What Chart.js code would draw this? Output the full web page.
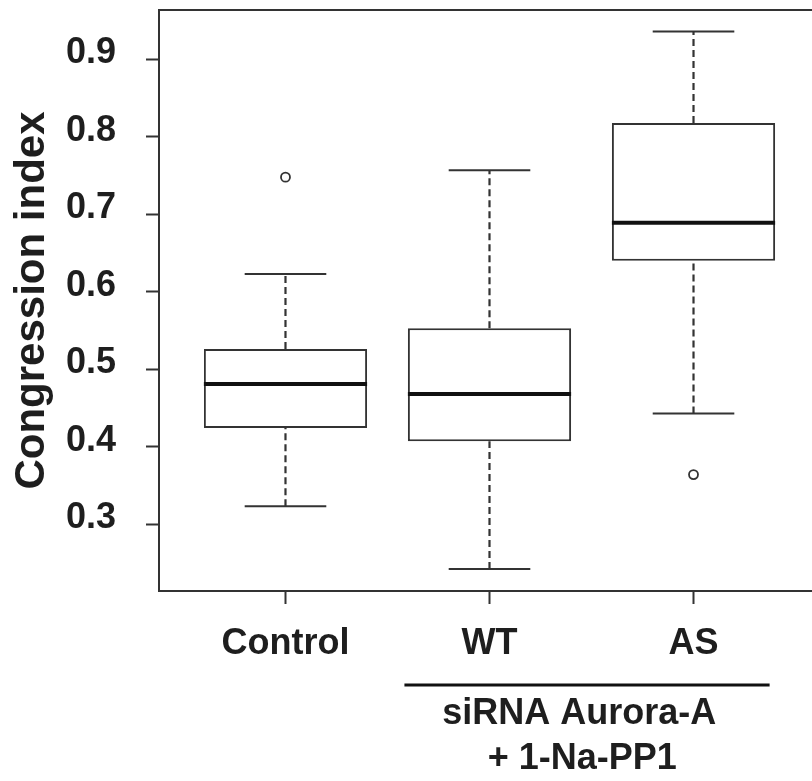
<!DOCTYPE html>
<html><head><meta charset="utf-8">
<script src="https://cdn.jsdelivr.net/npm/chart.js@4.4.1/dist/chart.umd.min.js"></script>
<style>html,body{margin:0;padding:0;background:#fff;overflow:hidden}
#wrap{position:relative;width:830px;height:781px}</style></head>
<body><div id="wrap"><canvas id="c"></canvas></div>
<script>
// ---- data ----
const categories  = ['Control', 'WT', 'AS'];
const whiskerLow  = [0.323, 0.242, 0.443];
const q1          = [0.424, 0.407, 0.640];
const median      = [0.481, 0.468, 0.689];
const q3          = [0.526, 0.553, 0.818];
const whiskerHigh = [0.623, 0.757, 0.936];
const outliers    = [[0.748], [], [0.364]];
const yTicks      = [0.3, 0.4, 0.5, 0.6, 0.7, 0.8, 0.9];
const yTitle      = 'Congression index';
const groupLabel  = ['siRNA Aurora-A', '+ 1-Na-PP1'];

// ---- layout / style constants ----
const FONT = "'Liberation Sans', Arial, Helvetica, sans-serif";
const LINE = '#333333';
const TEXT = '#1e1e1e';
const Y_MIN = 0.2137, Y_MAX = 0.9638;
const X_MIN = 0.38, X_MAX = 3.62;
const BOX_W = 0.8, CAP_W = 0.4;
const GROUP_FROM = 1.583, GROUP_TO = 3.373, GROUP_TEXT_X = 2.44;

const seg = (pts, extra) => Object.assign({
  type: 'line', data: pts, pointRadius: 0, borderColor: LINE, borderWidth: 2,
  fill: false, tension: 0, borderCapStyle: 'butt'
}, extra);

const datasets = [];
datasets.push({
  type: 'bar',
  data: categories.map((c, i) => ({x: i + 1, y: [q1[i], q3[i]]})),
  backgroundColor: '#ffffff', borderColor: LINE, borderWidth: 2,
  borderSkipped: false, barPercentage: BOX_W, categoryPercentage: 1, grouped: false, order: 3
});
categories.forEach((c, i) => {
  const x = i + 1;
  datasets.push(seg([{x, y: q3[i]}, {x, y: whiskerHigh[i]}], {borderDash: [7, 4], borderWidth: 2.2, order: 4}));
  datasets.push(seg([{x, y: whiskerLow[i]}, {x, y: q1[i]}], {borderDash: [7, 4], borderWidth: 2.2, order: 4}));
  datasets.push(seg([{x: x - CAP_W / 2, y: whiskerHigh[i]}, {x: x + CAP_W / 2, y: whiskerHigh[i]}], {order: 4}));
  datasets.push(seg([{x: x - CAP_W / 2, y: whiskerLow[i]}, {x: x + CAP_W / 2, y: whiskerLow[i]}], {order: 4}));
  datasets.push(seg([{x: x - BOX_W / 2, y: median[i]}, {x: x + BOX_W / 2, y: median[i]}], {borderWidth: 4, borderColor: '#111', order: 1}));
});
datasets.push({
  type: 'line', showLine: false,
  data: outliers.flatMap((arr, i) => arr.map(v => ({x: i + 1, y: v}))),
  pointRadius: 4.5, pointBorderWidth: 1.8, pointBackgroundColor: '#fff', pointBorderColor: LINE, order: 0
});

const framePlugin = {
  id: 'frame',
  afterDraw(chart) {
    const {ctx, chartArea: a, scales: {x}} = chart;
    ctx.save();
    ctx.strokeStyle = LINE; ctx.lineWidth = 2;
    ctx.strokeRect(a.left, a.top, a.right - a.left, a.bottom - a.top);
    // group bracket line
    const gy = a.bottom + 94;
    ctx.strokeStyle = '#111'; ctx.lineWidth = 3;
    ctx.beginPath();
    ctx.moveTo(x.getPixelForValue(GROUP_FROM), gy);
    ctx.lineTo(x.getPixelForValue(GROUP_TO), gy);
    ctx.stroke();
    ctx.fillStyle = TEXT;
    ctx.font = "bold 36px " + FONT;
    ctx.textAlign = 'center'; ctx.textBaseline = 'middle';
    const tx = x.getPixelForValue(GROUP_TEXT_X);
    ctx.fillText(groupLabel[0], tx, a.bottom + 123);
    ctx.fillText(groupLabel[1], tx + 3, a.bottom + 168);
    ctx.restore();
  }
};

const noPad = s => { s.paddingTop = 0; s.paddingBottom = 0; s.paddingLeft = 0; s.paddingRight = 0; };

new Chart(document.getElementById('c'), {
  type: 'bar',
  data: {datasets},
  plugins: [framePlugin],
  options: {
    responsive: true, maintainAspectRatio: false, animation: false,
    layout: {padding: {top: 10, right: 10, left: 0, bottom: 0}},
    plugins: {legend: {display: false}, tooltip: {enabled: false}},
    scales: {
      x: {
        type: 'linear', min: X_MIN, max: X_MAX, offset: false,
        afterBuildTicks: s => { s.ticks = categories.map((c, i) => ({value: i + 1})); },
        afterFit: s => { s.height = 190; noPad(s); },
        ticks: {
          callback: v => categories[Math.round(v) - 1],
          font: {family: FONT, size: 36, weight: 'bold'}, color: TEXT,
          padding: 18, maxRotation: 0, autoSkip: false
        },
        grid: {drawOnChartArea: false, drawTicks: true, offset: false, tickLength: 13, tickColor: LINE, tickWidth: 2},
        border: {display: true, color: LINE, width: 2}
      },
      y: {
        type: 'linear', min: Y_MIN, max: Y_MAX,
        afterBuildTicks: s => { s.ticks = yTicks.map(v => ({value: v})); },
        afterFit: s => { s.width = 159; noPad(s); },
        ticks: {
          callback: v => Number(v).toFixed(1),
          font: {family: FONT, size: 36, weight: 'bold'}, color: TEXT,
          padding: 30, labelOffset: -6
        },
        grid: {drawOnChartArea: false, drawTicks: true, tickLength: 13, tickColor: LINE, tickWidth: 2},
        border: {display: true, color: LINE, width: 2},
        title: {display: true, text: yTitle, color: TEXT,
          font: {family: FONT, size: 42, weight: 'bold'}, padding: {top: 7, bottom: 0}}
      }
    }
  }
});
</script></body></html>
